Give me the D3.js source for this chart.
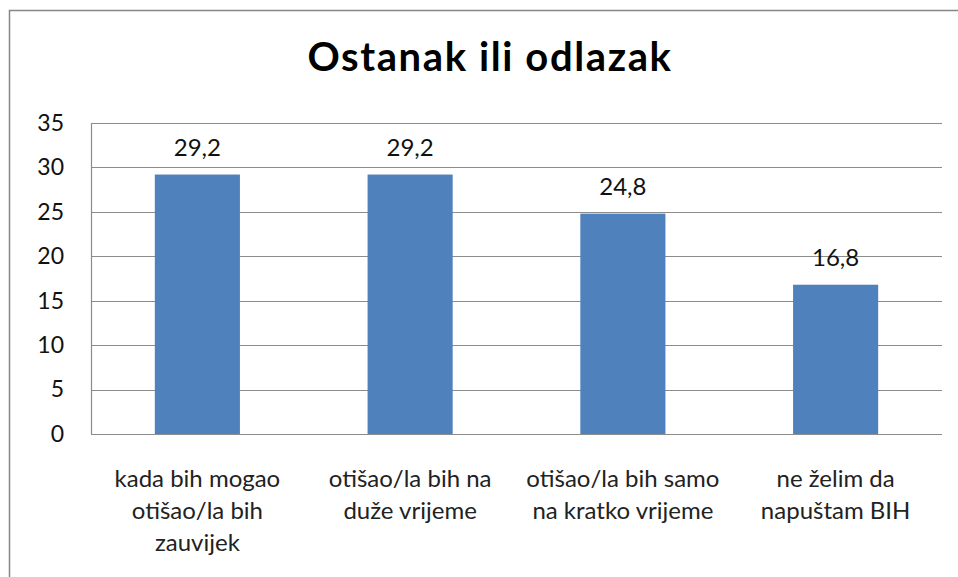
<!DOCTYPE html>
<html>
<head>
<meta charset="utf-8">
<script src="https://cdn.jsdelivr.net/npm/d3@7"></script>
<style>
  body { margin: 0; background: #fff; }
  text { font-family: Lato, "Open Sans", sans-serif; }
</style>
</head>
<body>
<div id="chart"></div>
<script>
// data
const title = "Ostanak ili odlazak";
const categories = [
  "kada bih mogao\notišao/la bih\nzauvijek",
  "otišao/la bih na\nduže vrijeme",
  "otišao/la bih samo\nna kratko vrijeme",
  "ne želim da\nnapuštam BIH"
];
const values = [29.2, 29.2, 24.8, 16.8];
const yTicks = [0, 5, 10, 15, 20, 25, 30, 35];

const width = 958, height = 577;
const margin = { top: 123, right: 16, bottom: 143, left: 91 };

const svg = d3.select('#chart')
  .append('svg')
  .attr('width', width)
  .attr('height', height);

// outer chart frame (runs off the right and bottom edges)
svg.append('rect')
  .attr('x', 9.5)
  .attr('y', 10.5)
  .attr('width', 1000)
  .attr('height', 1000)
  .attr('fill', 'none')
  .attr('stroke', '#868686')
  .attr('stroke-width', 1.5);

svg.append('text')
  .attr('x', 490)
  .attr('y', 71)
  .attr('text-anchor', 'middle')
  .attr('font-size', 40)
  .attr('font-weight', 'bold')
  .attr('letter-spacing', 1.6)
  .attr('fill', '#000')
  .text(title);

const x = d3.scaleBand()
  .domain(categories)
  .range([margin.left, width - margin.right])
  .paddingInner(0.6)
  .paddingOuter(0.3);

const y = d3.scaleLinear()
  .domain([0, 35])
  .range([height - margin.bottom, margin.top]);

// gridlines
svg.append('g')
  .selectAll('line')
  .data(yTicks)
  .enter()
  .append('line')
  .attr('x1', margin.left)
  .attr('x2', width - margin.right)
  .attr('y1', d => Math.round(y(d)) + 0.5)
  .attr('y2', d => Math.round(y(d)) + 0.5)
  .attr('stroke', '#8c8c8c')
  .attr('stroke-width', 1.2);

// left edge of plot
svg.append('line')
  .attr('x1', margin.left + 0.5)
  .attr('x2', margin.left + 0.5)
  .attr('y1', y(35))
  .attr('y2', y(0))
  .attr('stroke', '#8c8c8c')
  .attr('stroke-width', 1.2);

const yAxis = g => g
  .attr('transform', `translate(${margin.left},0)`)
  .call(d3.axisLeft(y).tickValues(yTicks).tickSize(0).tickPadding(27))
  .call(g => g.select('.domain').remove())
  .call(g => g.selectAll('text')
    .attr('font-size', 23)
    .attr('fill', '#111')
    .style('font-family', 'Lato, "Open Sans", sans-serif'));

svg.append('g').call(yAxis);

svg.append('g')
  .selectAll('rect')
  .data(values)
  .enter()
  .append('rect')
  .attr('x', (d, i) => x(categories[i]))
  .attr('y', d => y(d))
  .attr('width', x.bandwidth())
  .attr('height', d => y(0) - y(d))
  .attr('fill', '#4f81bd');

// value labels
svg.append('g')
  .selectAll('text')
  .data(values)
  .enter()
  .append('text')
  .attr('x', (d, i) => x(categories[i]) + x.bandwidth() / 2)
  .attr('y', d => y(d) - 19)
  .attr('text-anchor', 'middle')
  .attr('font-size', 24)
  .attr('fill', '#111')
  .text(d => d3.format('.1f')(d).replace('.', ','));

// category labels, one tspan per line
const cat = svg.append('g')
  .selectAll('text')
  .data(categories)
  .enter()
  .append('text')
  .attr('x', d => x(d) + x.bandwidth() / 2)
  .attr('y', 487)
  .attr('text-anchor', 'middle')
  .attr('font-size', 24)
  .attr('fill', '#222');

cat.selectAll('tspan')
  .data(d => d.split('\n'))
  .enter()
  .append('tspan')
  .attr('x', function () { return d3.select(this.parentNode).attr('x'); })
  .attr('dy', (d, i) => i === 0 ? 0 : 32)
  .text(d => d);
</script>
</body>
</html>
